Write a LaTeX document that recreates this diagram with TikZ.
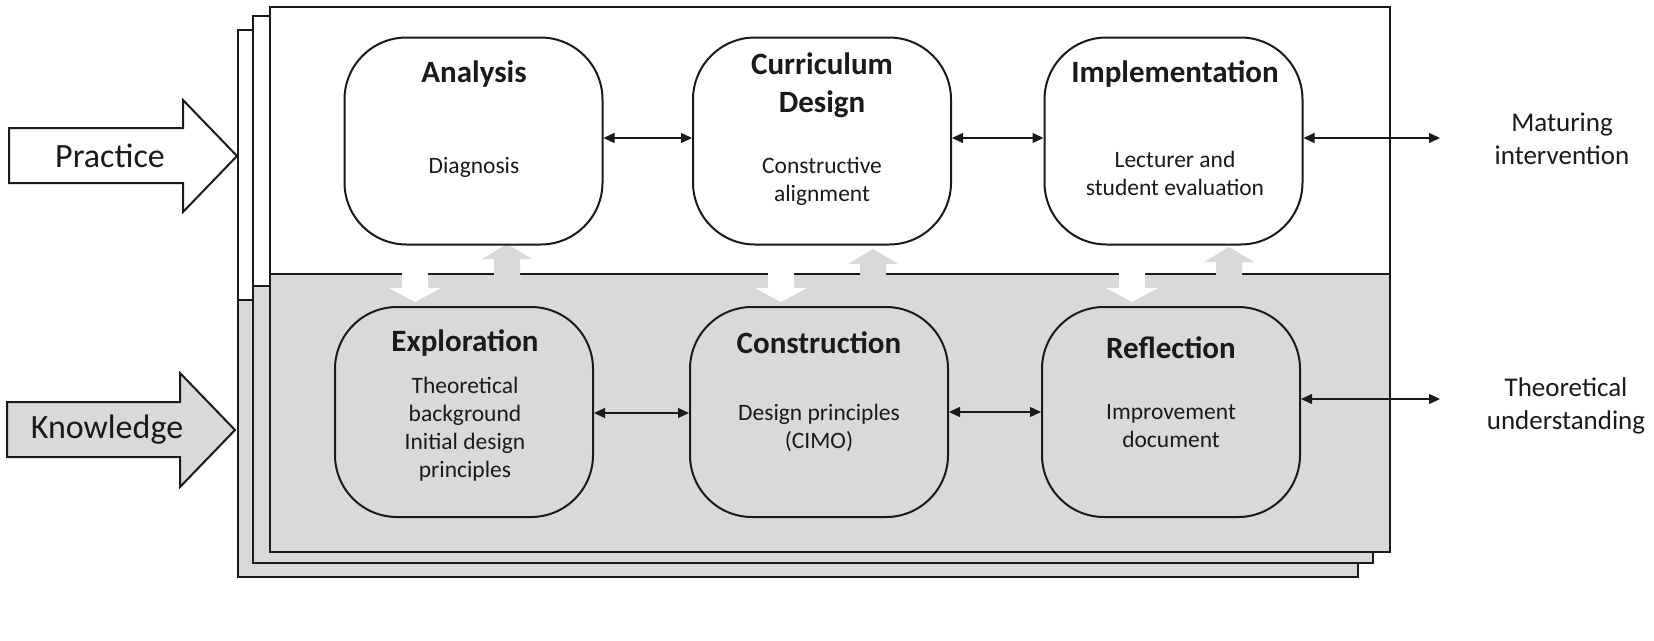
\documentclass[tikz,border=0pt]{standalone}
\usepackage{fontspec}
\setmainfont{Carlito}
\usetikzlibrary{arrows.meta}
\definecolor{boxgray}{HTML}{D9D9D9}
\definecolor{ink}{HTML}{1A1A1A}
\begin{document}
\begin{tikzpicture}[x=1pt,y=-1pt,
  stage/.style={draw=ink, line width=2pt, rounded corners=62pt, minimum width=258pt, minimum height=207pt, inner sep=0pt},
  ttl/.style={font=\fontsize{31}{38}\selectfont\bfseries, align=center, inner sep=0pt, text=ink},
  body/.style={font=\fontsize{23.5}{28}\selectfont, align=center, inner sep=0pt, text=ink},
  side/.style={font=\fontsize{27}{33}\selectfont, align=center, inner sep=0pt, text=ink},
  big/.style={font=\fontsize{34}{40}\selectfont, inner sep=0pt, text=ink},
  link/.style={draw=ink, line width=1.3pt, {Triangle[length=11pt,width=10pt]}-{Triangle[length=11pt,width=10pt]}},
  frame/.style={draw=ink, line width=2.5pt},
]
\useasboundingbox (0,0) rectangle (1654,640);
\fill[white] (0,0) rectangle (1654,640);

% stacked frames
\foreach \l/\t/\r/\b/\g in {238/30/1358/577/300, 253/16/1373/563/286, 270/7/1390/552/274} {
  \fill[white] (\l,\t) rectangle (\r,\g);
  \fill[boxgray] (\l,\g) rectangle (\r,\b);
  \draw[frame] (\l,\g) -- (\r,\g);
  \draw[frame] (\l,\t) rectangle (\r,\b);
}

% block arrows between rows
\foreach \x in {415,781,1132} {
  \fill[white] (\x-13,266) -- (\x+13,266) -- (\x+13,288) -- (\x+26,288) -- (\x,302) -- (\x-26,288) -- (\x-13,288) -- cycle;
}
\foreach \x/\tp in {507/244,873/249,1229/247} {
  \fill[boxgray] (\x-13,281) -- (\x+13,281) -- (\x+13,\tp+15) -- (\x+25,\tp+15) -- (\x,\tp) -- (\x-25,\tp+15) -- (\x-13,\tp+15) -- cycle;
}

% side arrows
\draw[fill=white, draw=ink, line width=2pt] (9,128) -- (183,128) -- (183,100) -- (237,156) -- (183,212) -- (183,183) -- (9,183) -- cycle;
\node[big] (prac) at (110,156) {Practice};
\draw[fill=boxgray, draw=ink, line width=2pt] (7,402) -- (180,402) -- (180,373) -- (235,430) -- (180,487) -- (180,457) -- (7,457) -- cycle;
\node[big] (know) at (107,430) {Knowledge};

% stage boxes
\node[stage, fill=white] (ana) at (473.5,141) {};
\node[stage, fill=white] (cur) at (822,141) {};
\node[stage, fill=white] (imp) at (1173.5,141) {};
\node[stage, fill=boxgray, minimum height=210pt] (exp) at (464,412) {};
\node[stage, fill=boxgray, minimum height=210pt] (con) at (819,412) {};
\node[stage, fill=boxgray, minimum height=210pt] (ref) at (1171,412) {};

% texts
\node[ttl] (anaT) at (474,74) {Analysis};
\node[body] (anaB) at (474,167) {Diagnosis};
\node[ttl] (curT) at (822,85) {Curriculum\\Design};
\node[body] (curB) at (822,181) {Constructive\\alignment};
\node[ttl] (impT) at (1175,74) {Implementation};
\node[body] (impB) at (1175,173.5) {Lecturer and\\student evaluation};
\node[ttl] (expT) at (465,343) {Exploration};
\node[body] (expB) at (465,429.5) {Theoretical\\background\\Initial design\\principles};
\node[ttl] (conT) at (819,343) {Construction};
\node[body] (conB) at (819,427.5) {Design principles\\(CIMO)};
\node[ttl] (refT) at (1171,348) {Reflection};
\node[body] (refB) at (1171,426) {Improvement\\document};

\node[side] (matT) at (1562,139) {Maturing\\intervention};
\node[side] (theT) at (1566,405.5) {Theoretical\\understanding};

% connectors
\coordinate (mat) at (1440,138);
\coordinate (theo) at (1440,399);
\draw[link] ([yshift=3pt]ana.east) -- ([yshift=3pt]cur.west);
\draw[link] ([yshift=3pt]cur.east) -- ([yshift=3pt]imp.west);
\draw[link] ([yshift=3pt]imp.east) -- (mat);
\draw[link] ([yshift=-1pt]exp.east) -- ([yshift=-1pt]con.west);
\draw[link] (con.east) -- (ref.west);
\draw[link] ([yshift=13pt]ref.east) -- (theo);
\end{tikzpicture}
\end{document}
